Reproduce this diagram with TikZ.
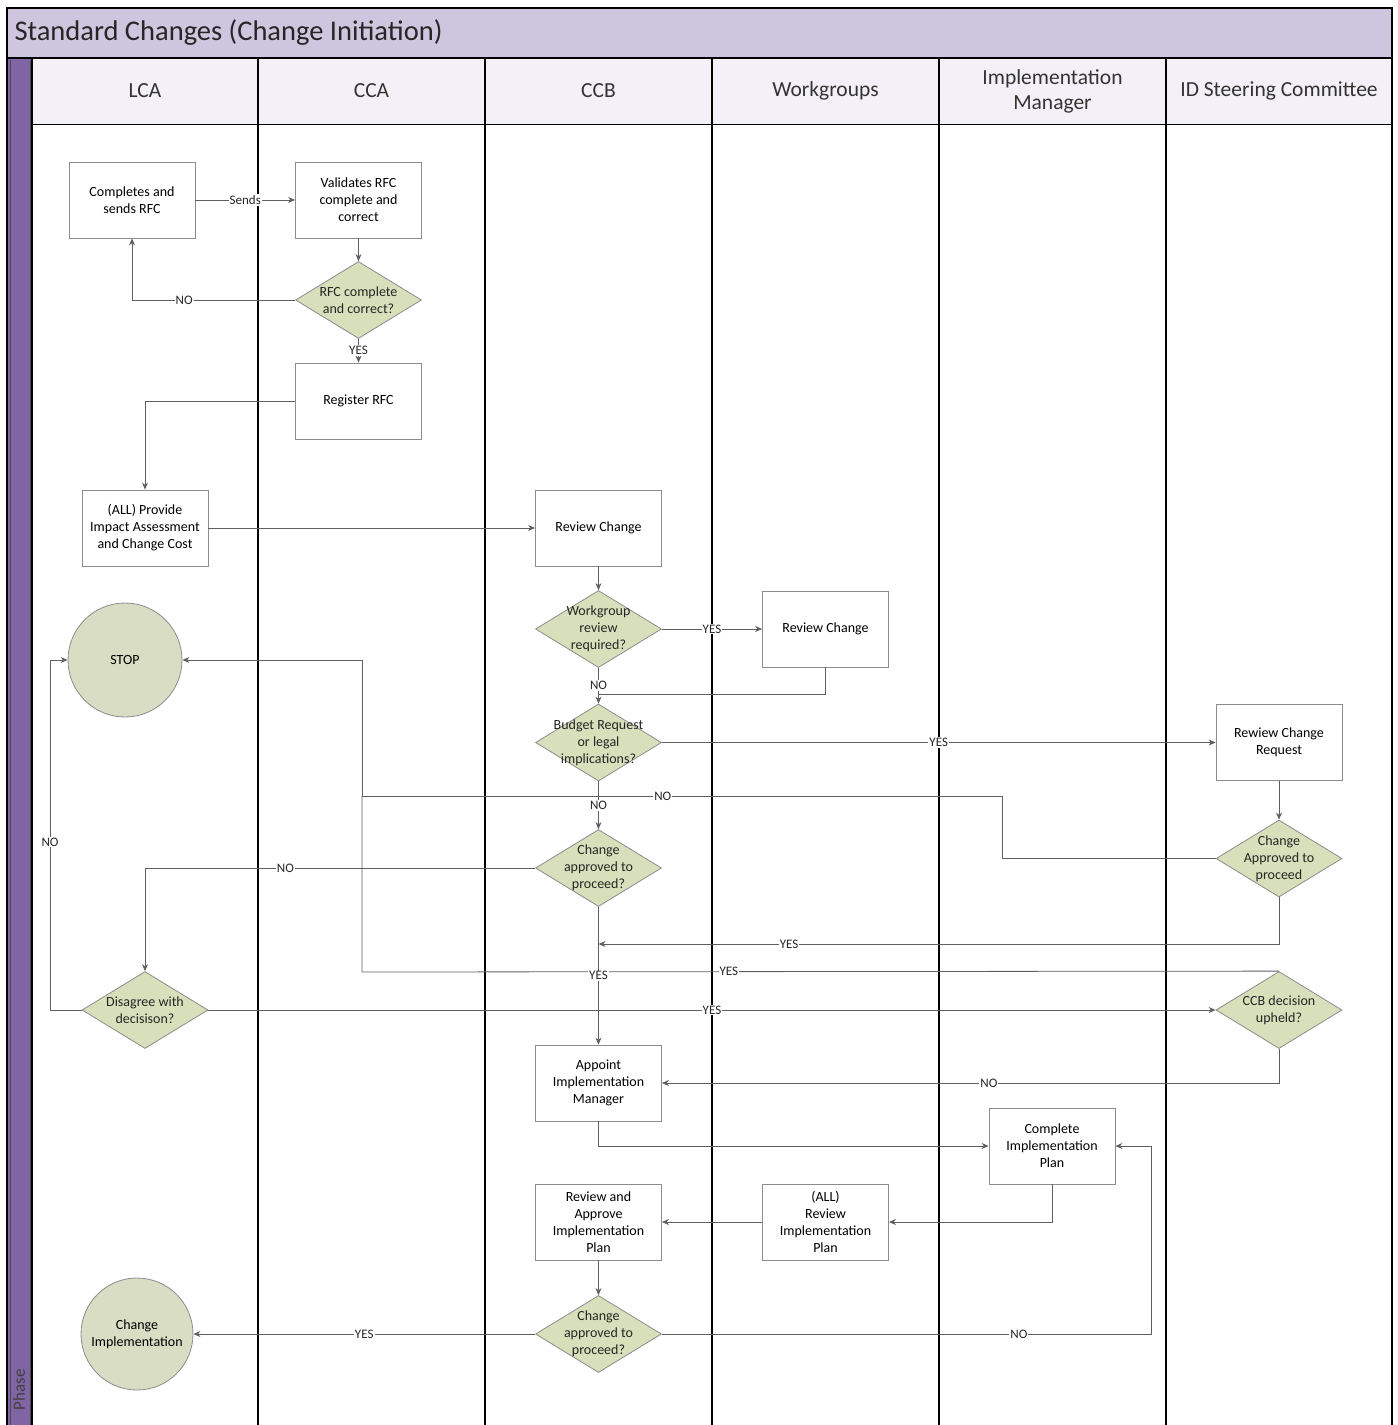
\documentclass[tikz,border=0pt]{standalone}
\usepackage{fontspec}
\setmainfont{Carlito}
\usetikzlibrary{positioning, shapes.geometric, arrows.meta}

\definecolor{titlefill}{RGB}{206,198,222}
\definecolor{headfill}{RGB}{243,241,247}
\definecolor{phasefill}{RGB}{128,100,164}
\definecolor{decfill}{RGB}{215,223,187}
\definecolor{termfill}{RGB}{217,221,196}
\definecolor{boxline}{RGB}{140,140,140}
\definecolor{flowline}{RGB}{95,95,95}

\begin{document}
\begin{tikzpicture}[
            x=1pt, y=-1pt,
            task/.style={draw=boxline, fill=white, line width=0.8pt, align=center, minimum width=126pt, minimum height=76pt, inner sep=2pt, font=\fontsize{14}{17}\selectfont},
            decision/.style={diamond, draw=boxline, fill=decfill, line width=0.8pt, minimum width=126pt, minimum height=77pt, inner sep=0pt},
            dectext/.style={align=center, text=black!85, font=\fontsize{14}{17}\selectfont},
            terminal/.style={circle, draw=boxline, fill=termfill, line width=0.8pt, align=center, font=\fontsize{14}{17}\selectfont},
            lanehead/.style={align=center, text=black!80, font=\fontsize{21.5}{25}\selectfont},
            flow/.style={->, >={Stealth[length=7pt, width=6pt]}, draw=flowline, line width=0.8pt},
            plain/.style={draw=flowline, line width=0.8pt},
            lbl/.style={fill=white, inner sep=1pt, text=black!85, font=\fontsize{13}{14}\selectfont},
            laneline/.style={line width=1.3pt, black}
        ]
            \useasboundingbox (0,0) rectangle (1398,1425);

            % 枠とレーン
            \fill[titlefill] (7,8) rectangle (1392,58);
            \fill[headfill] (32,58) rectangle (1392,124);
            \fill[phasefill] (7,58) rectangle (32,1425);
            \draw[line width=1pt, black!70] (10,60) -- (10,1425) (30,60) -- (30,1425);
            \draw[laneline] (7,1425) -- (7,8) -- (1392,8) -- (1392,1425);
            \draw[laneline] (7,58) -- (1392,58);
            \draw[line width=1pt] (32,124) -- (1392,124);
            \foreach \x in {32,258,485,712,939,1166}
                \draw[laneline] (\x,58) -- (\x,1425);

            \node[anchor=west, text=black!85, font=\fontsize{28.5}{32}\selectfont] (title) at (11,33) {Standard Changes (Change Initiation)};
            \node[rotate=90, text=black!75, font=\fontsize{17}{18}\selectfont] (phase) at (19,1390) {Phase};

            % レーン見出し
            \node[lanehead] (hLCA) at (145,91) {LCA};
            \node[lanehead] (hCCA) at (371.5,91) {CCA};
            \node[lanehead] (hCCB) at (598.5,91) {CCB};
            \node[lanehead] (hWG) at (825.5,91) {Workgroups};
            \node[lanehead] (hIM) at (1052.5,91) {Implementation\\Manager};
            \node[lanehead] (hIDSC) at (1279,91) {ID Steering Committee};

            % ノードの定義
            \node[task] (complete) at (132,200) {Completes and\\sends RFC};
            \node[task] (validate) at (358.5,200) {Validates RFC\\complete and\\correct};
            \node[decision, label={[dectext]center:{RFC complete\\and correct?}}] (rfcok) at (358.5,300) {};
            \node[task] (register) at (358.5,401) {Register RFC};
            \node[task] (impact) at (145,528) {(ALL) Provide\\Impact Assessment\\and Change Cost};
            \node[task] (ccbreview) at (598.5,528) {Review Change};
            \node[decision, label={[dectext]center:{Workgroup\\review\\required?}}] (wgreq) at (598.5,629) {};
            \node[task] (wgreview) at (825.5,629) {Review Change};
            \node[terminal, minimum size=114pt] (stop) at (125,660) {STOP};
            \node[decision, label={[dectext]center:{Budget Request\\or legal\\implications?}}] (budget) at (598.5,742.5) {};
            \node[task] (idreview) at (1279,742.5) {Rewiew Change\\Request};
            \node[decision, label={[dectext]center:{Change\\approved to\\proceed?}}] (ccbok) at (598.5,868) {};
            \node[decision, label={[dectext]center:{Change\\Approved to\\proceed}}] (idok) at (1279,858.5) {};
            \node[decision, label={[dectext]center:{Disagree with\\decisison?}}] (disagree) at (145,1010) {};
            \node[decision, label={[dectext]center:{CCB decision\\upheld?}}] (upheld) at (1279,1010) {};
            \node[task] (appoint) at (598.5,1083) {Appoint\\Implementation\\Manager};
            \node[task] (implplan) at (1052,1146) {Complete\\Implementation\\Plan};
            \node[task] (approve) at (598.5,1222) {Review and\\Approve\\Implementation\\Plan};
            \node[task] (allreview) at (825.5,1222) {(ALL)\\Review\\Implementation\\Plan};
            \node[decision, label={[dectext]center:{Change\\approved to\\proceed?}}] (finalok) at (598.5,1334) {};
            \node[terminal, minimum size=112pt] (implement) at (137,1334) {Change\\Implementation};

            % 折れ点
            \coordinate (wgjoin) at (598.5,694);
            \coordinate (stopbend) at (1002,796);
            \coordinate (stopcol) at (362,796);
            \coordinate (upheldcol) at (362,972);
            \coordinate (yesjoin) at (598.5,944);
            \coordinate (leftcol) at (50,1010);
            \coordinate (replan) at (1151,1334);

            % RFC の流れ
            \draw[flow] (complete) -- node[lbl]{Sends} (validate);
            \draw[flow] (validate) -- (rfcok);
            \draw[flow] (rfcok.west) -| node[lbl, pos=0.34]{NO} (complete.south);
            \draw[flow] (rfcok) -- node[lbl]{YES} (register);
            \draw[flow] (register.west) -| (impact.north);
            \draw[flow] (impact) -- (ccbreview);
            \draw[flow] (ccbreview) -- (wgreq);

            % CCB の判断
            \draw[flow] (wgreq) -- node[lbl]{YES} (wgreview);
            \draw[flow] (wgreq) -- node[lbl]{NO} (budget);
            \draw[plain] (wgreview.south) |- (wgjoin);
            \draw[flow] (budget) -- node[lbl]{YES} (idreview);
            \draw[flow] (budget) -- node[lbl]{NO} (ccbok);
            \draw[flow] (idreview) -- (idok);
            \draw[flow] (idok.west) -| (stopbend) -- node[lbl, pos=0.53]{NO} (stopcol) |- (stop.east);
            \draw[plain] (upheld.north) -- node[lbl, pos=0.6]{YES} (upheldcol) -- (stopcol);
            \draw[flow] (ccbok.west) -| node[lbl, pos=0.32]{NO} (disagree.north);
            \draw[flow] (ccbok) -- node[lbl]{YES} (appoint);
            \draw[flow] (idok.south) |- node[lbl, pos=0.86]{YES} (yesjoin);
            \draw[flow] (disagree.west) -- (leftcol) |- node[lbl, pos=0.24]{NO} (stop.west);
            \draw[flow] (disagree) -- node[lbl]{YES} (upheld);
            \draw[flow] (upheld.south) |- node[lbl, pos=0.735]{NO} (appoint.east);

            % 実施計画
            \draw[flow] (appoint.south) |- (implplan.west);
            \draw[flow] (implplan.south) |- (allreview.east);
            \draw[flow] (allreview) -- (approve);
            \draw[flow] (approve) -- (finalok);
            \draw[flow] (finalok) -- node[lbl]{YES} (implement);
            \draw[flow] (finalok.east) -- node[lbl, pos=0.73]{NO} (replan) |- (implplan.east);
          \end{tikzpicture}
\end{document}
